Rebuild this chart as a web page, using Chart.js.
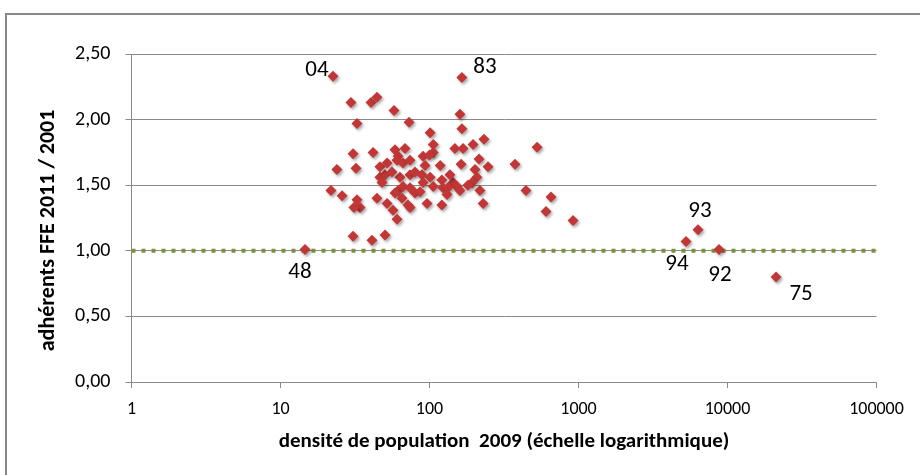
<!DOCTYPE html>
<html>
<head>
<meta charset="utf-8">
<script src="https://cdn.jsdelivr.net/npm/chart.js@4"></script>
<style>
  html, body { margin: 0; padding: 0; background: #fff; }
  #wrap { position: relative; width: 920px; height: 475px; }
  #frame { position: absolute; left: 5px; top: 13px; right: -4px; bottom: -4px;
           border-left: 2px solid #888; border-top: 2px solid #888; }
  canvas { position: absolute; left: 0; top: 0; }
</style>
</head>
<body>
<div id="wrap">
  <div id="frame"></div>
  <canvas id="chart" width="920" height="475"></canvas>
</div>
<script>
// densité de population 2009 (hab/km²) par département, first 7 are the labelled ones
const density = [
    22.5, 165, 14.6, 6340, 5265, 8770, 21180,
    29.7, 40.5, 44.4, 57.8, 72.9, 32.6, 101, 160, 165, 232,
    106, 148, 168, 196, 30.7, 41.8, 58.7, 68.5, 61.5, 90.5,
    106, 100, 23.9, 32.1, 163, 215, 247, 375, 527,
    21.8, 25.9, 32.6, 34.2, 31.1, 44.4, 51.9, 56.9, 60.5,
    46.5, 50.3, 63.4, 96.2, 121, 218, 229, 144, 153,
    46.5, 51.9, 60.5, 66.4, 74.0, 56.0, 48.0, 74.0,
    61.5, 66.4, 74.0, 58.7, 65.4, 71.7, 30.7, 41.1, 50.3,
    79.9, 89.0, 101, 90.5, 121, 137, 202, 208, 193, 181,
    79.9, 86.4, 106, 123, 133, 160, 131, 74.0,
    444, 654, 605, 919, 118, 93.3,
];
// adhérents FFE 2011 / 2001
const ratio = [
    2.33, 2.32, 1.01, 1.16, 1.07, 1.01, 0.80,
    2.13, 2.13, 2.17, 2.07, 1.98, 1.97, 1.90, 2.04, 1.93, 1.85,
    1.81, 1.78, 1.78, 1.81, 1.74, 1.75, 1.77, 1.78, 1.72, 1.72,
    1.75, 1.73, 1.62, 1.63, 1.66, 1.70, 1.64, 1.66, 1.79,
    1.46, 1.42, 1.39, 1.33, 1.33, 1.40, 1.36, 1.31, 1.24,
    1.56, 1.58, 1.56, 1.36, 1.35, 1.46, 1.36, 1.52, 1.49,
    1.64, 1.67, 1.69, 1.67, 1.69, 1.60, 1.52, 1.58,
    1.46, 1.49, 1.48, 1.44, 1.40, 1.35, 1.11, 1.08, 1.12,
    1.60, 1.58, 1.56, 1.52, 1.54, 1.58, 1.62, 1.56, 1.52, 1.50,
    1.44, 1.45, 1.49, 1.48, 1.48, 1.46, 1.43, 1.33,
    1.46, 1.41, 1.30, 1.23, 1.65, 1.65,
];
const tagIndex = [0, 1, 2, 3, 4, 5, 6];
const tagText = ['04', '83', '48', '93', '94', '92', '75'];

const xTicks = [1, 10, 100, 1000, 10000, 100000];
const refLine = [1, 1];

const FONT = 'Carlito, Lato, sans-serif';
const GRID = '#8a8a8a';

// where each department number sits relative to its point
const tagOffset = {
    '04': [-16, -6], '83': [23, -10], '48': [-5, 23], '93': [2, -19],
    '94': [-9, 23], '92': [1, 26], '75': [25, 17],
};

const points = density.map((d, i) => ({ x: d, y: ratio[i] }));

const shadowPlugin = {
    id: 'shadow',
    beforeDatasetDraw(chart, args) {
        if (args.index !== 0) return;
        const ctx = chart.ctx;
        ctx.save();
        ctx.shadowColor = 'rgba(0,0,0,0.35)';
        ctx.shadowBlur = 3;
        ctx.shadowOffsetX = 1.5;
        ctx.shadowOffsetY = 2;
    },
    afterDatasetDraw(chart, args) {
        if (args.index !== 0) return;
        chart.ctx.restore();
    },
};

const tagPlugin = {
    id: 'tags',
    afterDatasetsDraw(chart) {
        const ctx = chart.ctx;
        const meta = chart.getDatasetMeta(0);
        ctx.save();
        ctx.font = `23px ${FONT}`;
        ctx.fillStyle = '#000';
        ctx.textAlign = 'center';
        ctx.textBaseline = 'middle';
        tagIndex.forEach((idx, k) => {
            const el = meta.data[idx];
            const off = tagOffset[tagText[k]] || [0, -16];
            ctx.fillText(tagText[k], el.x + off[0], el.y + off[1]);
        });
        ctx.restore();
    },
};

new Chart(document.getElementById('chart').getContext('2d'), {
    data: {
        datasets: [
            {
                type: 'scatter',
                data: points,
                pointStyle: 'rectRot',
                pointRadius: 5.5,
                pointHoverRadius: 5.5,
                backgroundColor: '#c23636',
                borderColor: '#c23636',
                borderWidth: 0,
                order: 0,
            },
            {
                type: 'line',
                data: [{ x: xTicks[0], y: refLine[0] }, { x: xTicks[xTicks.length - 1], y: refLine[1] }],
                borderColor: '#77933c',
                borderWidth: 4,
                borderDash: [4, 6],
                pointRadius: 0,
                fill: false,
                order: 1,
            },
        ],
    },
    options: {
        responsive: false,
        animation: false,
        events: [],
        layout: { padding: { left: 0, right: 43.5, top: 54, bottom: 0 } },
        plugins: { legend: { display: false }, tooltip: { enabled: false } },
        scales: {
            x: {
                type: 'logarithmic',
                min: 1,
                max: 100000,
                afterBuildTicks(scale) {
                    scale.ticks = xTicks.map(v => ({ value: v }));
                },
                afterFit(scale) { scale.height = 93; },
                ticks: {
                    callback: v => String(v),
                    font: { family: FONT, size: 18 },
                    color: '#000',
                    padding: 11,
                    maxRotation: 0,
                    autoSkip: false,
                },
                grid: { drawOnChartArea: false, drawTicks: true, tickLength: 6, color: GRID },
                border: { display: true, color: GRID, width: 1 },
                title: {
                    display: true,
                    text: 'densité de population  2009 (échelle logarithmique)',
                    font: { family: FONT, size: 21, weight: 'bold' },
                    color: '#000',
                    padding: { top: 4, bottom: 21 },
                },
            },
            y: {
                min: 0,
                max: 2.5,
                afterFit(scale) { scale.width = 131.5; },
                ticks: {
                    stepSize: 0.5,
                    callback: v => v.toFixed(2).replace('.', ','),
                    font: { family: FONT, size: 20 },
                    color: '#000',
                    padding: 15,
                },
                grid: { color: GRID, tickLength: 6 },
                border: { display: true, color: GRID, width: 1 },
                title: {
                    display: true,
                    text: 'adhérents FFE 2011 / 2001     ',
                    font: { family: FONT, size: 22, weight: 'bold' },
                    color: '#000',
                    padding: { top: 35, bottom: 4 },
                },
            },
        },
    },
    plugins: [shadowPlugin, tagPlugin],
});
</script>
</body>
</html>
